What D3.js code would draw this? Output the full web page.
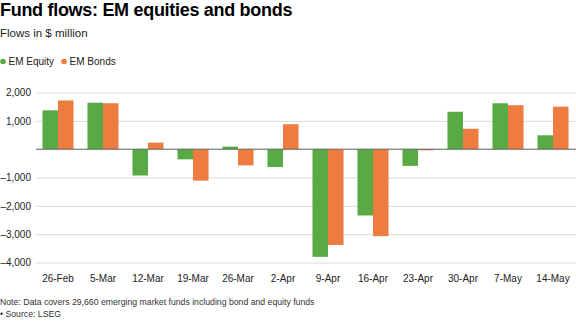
<!DOCTYPE html>
<html>
<head>
<meta charset="utf-8">
<script src="https://cdn.jsdelivr.net/npm/d3@7"></script>
<style>
  html, body { margin: 0; padding: 0; background: #fff; }
  svg { display: block; font-family: "Liberation Sans", Arial, Helvetica, sans-serif; }
</style>
</head>
<body>
<svg id="chart" width="576" height="323"></svg>
<script>
// Weekly flows, $ million
const weeks = ["26-Feb", "5-Mar", "12-Mar", "19-Mar", "26-Mar", "2-Apr", "9-Apr", "16-Apr", "23-Apr", "30-Apr", "7-May", "14-May"];
const equity = [1370, 1640, -930, -360, 90, -630, -3800, -2340, -590, 1320, 1620, 490];
const bonds = [1720, 1620, 230, -1110, -570, 880, -3380, -3070, -40, 720, 1550, 1500];
const seriesNames = ["EM Equity", "EM Bonds"];
const seriesColors = ["#57aa44", "#ee7b3f"];
const yTicks = [2000, 1000, 0, -1000, -2000, -3000, -4000];

const svg = d3.select("#chart");

// Header
svg.append("text").attr("x", 0).attr("y", 16)
  .attr("font-size", 18).attr("font-weight", "bold").attr("fill", "#000")
  .attr("letter-spacing", -0.3)
  .text("Fund flows: EM equities and bonds");
svg.append("text").attr("x", 0).attr("y", 36.5)
  .attr("font-size", 11.5).attr("fill", "#222")
  .text("Flows in $ million");

// Legend
const legend = svg.append("g").attr("transform", "translate(0,61.5)");
let lx = 3;
seriesNames.forEach((name, i) => {
  legend.append("circle").attr("cx", lx).attr("cy", 0).attr("r", 2.8).attr("fill", seriesColors[i]);
  const t = legend.append("text").attr("x", lx + 5.5).attr("y", 3.5)
    .attr("font-size", 10).attr("fill", "#222").text(name);
  lx += 5.5 + t.node().getComputedTextLength() + 10;
});

// Scales
const x = d3.scaleBand().domain(weeks).range([35.5, 575.5]).paddingInner(0.31).paddingOuter(0.155);
const sub = d3.scaleBand().domain(seriesNames).range([0, x.bandwidth()]);
const y = d3.scaleLinear().domain([-4000, 2000]).range([262.5, 92.5]);

// Gridlines and y labels
const fmt = d3.format(",");
const yAxis = svg.append("g").attr("transform", "translate(36,0)")
  .call(d3.axisLeft(y).tickValues(yTicks).tickSize(-540)
    .tickFormat(d => d === 0 ? "" : (d < 0 ? "\u2013" + fmt(-d) : fmt(d))).tickPadding(5));
yAxis.select(".domain").remove();
yAxis.selectAll(".tick line").attr("stroke", "#d9d9d9").attr("stroke-width", 1);
yAxis.selectAll(".tick text").attr("font-size", 10).attr("fill", "#222")
  .attr("font-family", "'Liberation Sans', Arial, sans-serif");

// Bars
const groups = svg.append("g").selectAll("g").data(weeks).join("g")
  .attr("transform", d => `translate(${x(d)},0)`);
groups.selectAll("rect")
  .data((d, i) => [{ s: seriesNames[0], v: equity[i] }, { s: seriesNames[1], v: bonds[i] }])
  .join("rect")
  .attr("x", d => sub(d.s))
  .attr("width", sub.bandwidth())
  .attr("y", d => y(Math.max(0, d.v)))
  .attr("height", d => Math.abs(y(d.v) - y(0)))
  .attr("fill", (d, i) => seriesColors[i]);

// Zero line
svg.append("line").attr("x1", 36).attr("x2", 576).attr("y1", y(0)).attr("y2", y(0))
  .attr("stroke", "#666").attr("stroke-width", 1);

// x labels
const xAxis = svg.append("g").attr("transform", "translate(0,271.5)")
  .call(d3.axisBottom(x).tickSize(0).tickPadding(3));
xAxis.select(".domain").remove();
xAxis.selectAll(".tick text").attr("font-size", 10).attr("fill", "#222")
  .attr("font-family", "'Liberation Sans', Arial, sans-serif");

// Footer
svg.append("text").attr("x", 0).attr("y", 305)
  .attr("font-size", 8.7).attr("fill", "#333")
  .text("Note: Data covers 29,660 emerging market funds including bond and equity funds");
svg.append("text").attr("x", 0).attr("y", 317)
  .attr("font-size", 8.7).attr("fill", "#333")
  .text("\u2022 Source: LSEG");
</script>
</body>
</html>
